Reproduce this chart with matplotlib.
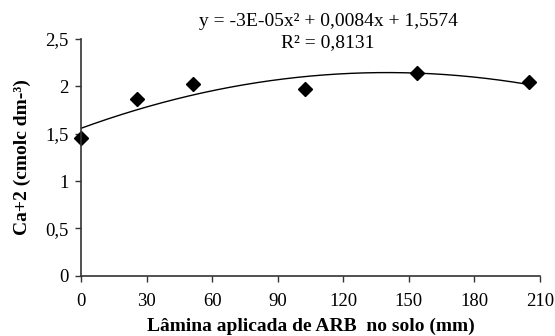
import matplotlib.pyplot as plt
import numpy as np

# data
lamina = [0, 25.6, 51.2, 102.4, 153.6, 204.8]
ca = [1.45, 1.87, 2.03, 1.97, 2.14, 2.05]
coef = [-3e-05, 0.0084, 1.5574]  # trend line y = a x^2 + b x + c
r2 = "0,8131"

xticks = [0, 30, 60, 90, 120, 150, 180, 210]
yticks = [0, 0.5, 1, 1.5, 2, 2.5]
ytick_labels = ["0", "0,5", "1", "1,5", "2", "2,5"]

plt.rcParams['font.family'] = ['Liberation Serif', 'DejaVu Serif']

fig = plt.figure(figsize=(5.55, 3.36), dpi=100)
ax = fig.add_axes([0.146, 0.179, 0.827, 0.705])

xs = np.linspace(0, max(lamina), 200)
ys = np.polyval(coef, xs)
ax.plot(xs, ys, color='black', lw=1.0)
ax.plot(lamina, ca, 'D', color='black', markersize=7.5, clip_on=False)

ax.set_xlim(0, 210)
ax.set_ylim(0, 2.5)
ax.set_xticks(xticks)
ax.set_yticks(yticks, ytick_labels)
ax.tick_params(direction='out', length=4, width=1, labelsize=13.5, color='#333333')
ax.tick_params(axis='x', pad=8)
ax.tick_params(axis='y', pad=5)
for s in ['top', 'right']:
    ax.spines[s].set_visible(False)
for s in ['left', 'bottom']:
    ax.spines[s].set_color('#333333')
    ax.spines[s].set_linewidth(1.2)

ax.set_xlabel('Lâmina aplicada de ARB  no solo (mm)', fontsize=14, fontweight='bold', labelpad=6)
ax.set_ylabel('Ca+2 (cmolc dm-³)', fontsize=14, fontweight='bold', labelpad=10)

eq = "y = -3E-05x² + 0,0084x + 1,5574\nR² = " + r2
fig.text(0.591, 0.96, eq, ha='center', va='top', fontsize=14, linespacing=1.25)

plt.savefig('out.png', dpi=100)
